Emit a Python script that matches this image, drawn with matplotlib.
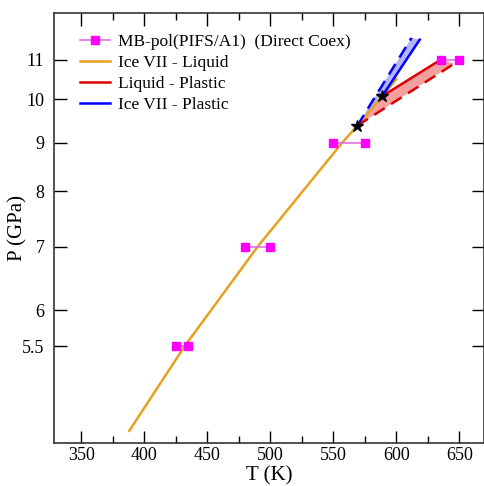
import numpy as np
import matplotlib
matplotlib.use("Agg")
import matplotlib.pyplot as plt
from matplotlib.ticker import FixedLocator, FixedFormatter, MultipleLocator, NullLocator

plt.rcParams['font.family'] = ['Liberation Serif', 'DejaVu Serif']
plt.rcParams['mathtext.fontset'] = 'stix'

# ===== Data =====
# direct coexistence brackets (solid / liquid temperature at each pressure)
coex_P = [5.5, 7.0, 9.0, 11.0]
coex_T_lo = [425, 480, 550, 635]
coex_T_hi = [435, 500, 575, 650]

# Ice VII - Liquid melting curve
vii_liq_T = [388, 432, 490, 557, 569, 588.6, 600]
vii_liq_P = [4.48, 5.5, 7.0, 9.0, 9.38, 10.07, 10.5]

# triple points (two estimates)
triple_T = [569, 588.6]
triple_P = [9.38, 10.07]

# Liquid - Plastic (solid from triple point 2, dashed from triple point 1)
liq_pl_T_solid = [588.6, 635]
liq_pl_P_solid = [10.07, 11.0]
liq_pl_T_dash = [569, 646]
liq_pl_P_dash = [9.38, 10.9]

# Ice VII - Plastic
vii_pl_T_solid = [588.6, 618.5]
vii_pl_P_solid = [10.07, 11.55]
vii_pl_T_dash = [569, 612]
vii_pl_P_dash = [9.38, 11.6]

y_ticks = [5.5, 6, 7, 8, 9, 10, 11]

ORANGE = '#E8A020'
MAGENTA = '#FF00FF'
RED = '#DD0000'
BLUE = '#0000FF'

fig = plt.figure(figsize=(4.84, 4.86), dpi=100)
ax = fig.add_axes([54 / 484, 1 - 443 / 486, 1 - 54 / 484, (443 - 13) / 486])

# shaded uncertainty regions
ax.fill(liq_pl_T_dash + liq_pl_T_solid[::-1],
        liq_pl_P_dash + liq_pl_P_solid[::-1],
        color='#F4A0A0', lw=0, zorder=1)
ax.fill(vii_pl_T_dash + vii_pl_T_solid[::-1],
        vii_pl_P_dash + vii_pl_P_solid[::-1],
        color='#B4B4F8', lw=0, zorder=1)

# coexistence brackets
for i, p in enumerate(coex_P):
    ax.plot([coex_T_lo[i], coex_T_hi[i]], [p, p], color='#E070E8', lw=1.2,
            marker='s', ms=5.5, mfc=MAGENTA, mec=MAGENTA, zorder=3,
            label='MB-pol(PIFS/A1)  (Direct Coex)' if i == 0 else None)

ax.plot(vii_liq_T, vii_liq_P, color=ORANGE, lw=1.8, zorder=2, label='Ice VII - Liquid')
ax.plot(liq_pl_T_solid, liq_pl_P_solid, color=RED, lw=1.8, zorder=2, label='Liquid - Plastic')
ax.plot(liq_pl_T_dash, liq_pl_P_dash, color=RED, lw=1.8, ls=(0, (5, 3)), zorder=2)
ax.plot(vii_pl_T_solid, vii_pl_P_solid, color=BLUE, lw=1.8, zorder=2, label='Ice VII - Plastic')
ax.plot(vii_pl_T_dash, vii_pl_P_dash, color=BLUE, lw=1.8, ls=(0, (5, 3)), zorder=2)

ax.plot(triple_T, triple_P, ls='none', marker='*', ms=9, color='black', zorder=4)

ax.set_yscale('log')
ax.set_xlim(328.3, 669.5)
ax.set_ylim(4.35, 12.32)

ax.xaxis.set_major_locator(MultipleLocator(50))
ax.xaxis.set_minor_locator(MultipleLocator(25))
ax.yaxis.set_major_locator(FixedLocator(y_ticks))
ax.yaxis.set_major_formatter(FixedFormatter([str(t) for t in y_ticks]))
ax.yaxis.set_minor_locator(NullLocator())

ax.tick_params(which='both', direction='in', top=True, right=True, labelsize=13, width=1)
ax.tick_params(which='major', length=9)
ax.tick_params(axis='y', which='major', pad=7)
ax.tick_params(axis='x', which='major', pad=3)
ax.tick_params(which='minor', length=5)
for s in ax.spines.values():
    s.set_linewidth(1.2)
    s.set_color('#333333')

ax.set_xlabel('T (K)', fontsize=15)
ax.set_ylabel('P (GPa)', fontsize=15)
ax.xaxis.set_label_coords(0.5, -0.055)
ax.yaxis.set_label_coords(-0.062, 0.5)

ax.legend(loc='upper left', bbox_to_anchor=(0.045, 0.968), frameon=False, fontsize=12.5,
          handlelength=1.7, handletextpad=0.45, labelspacing=0.28, borderaxespad=0)

fig.savefig('out.png', dpi=100)
